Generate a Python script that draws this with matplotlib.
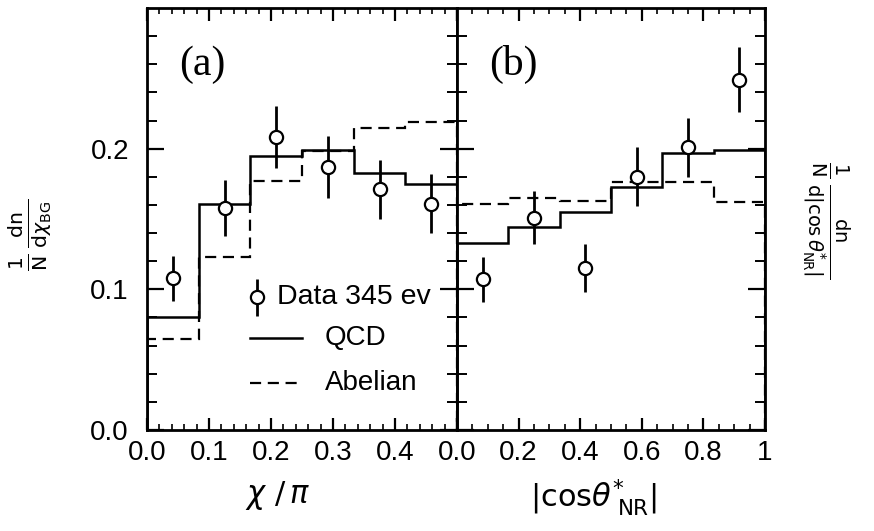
import numpy as np
import matplotlib
matplotlib.use('Agg')
import matplotlib.pyplot as plt

# dados lidos da figura
# painel (a): chi/pi, 6 bins de largura 1/12
chi_bordas = [0.0, 1/12, 2/12, 3/12, 4/12, 5/12, 0.5]
chi_qcd = [0.080, 0.161, 0.195, 0.199, 0.183, 0.175]
chi_abeliano = [0.065, 0.123, 0.177, 0.198, 0.215, 0.219]
chi_dados = [0.108, 0.158, 0.208, 0.187, 0.171, 0.161]
chi_erros = [0.016, 0.020, 0.022, 0.022, 0.021, 0.021]

# painel (b): |cos theta*_NR|, 6 bins de largura 1/6
cos_bordas = [0.0, 1/6, 2/6, 3/6, 4/6, 5/6, 1.0]
cos_qcd = [0.133, 0.144, 0.155, 0.173, 0.197, 0.199]
cos_abeliano = [0.161, 0.165, 0.163, 0.176, 0.176, 0.162]
cos_dados = [0.107, 0.151, 0.115, 0.180, 0.201, 0.249]
cos_erros = [0.016, 0.019, 0.017, 0.021, 0.021, 0.023]

rotulos_chi = ['0.0', '0.1', '0.2', '0.3', '0.4', '']
rotulos_cos = ['0.0', '0.2', '0.4', '0.6', '0.8', '1']

plt.rcParams['font.family'] = ['Liberation Sans', 'DejaVu Sans']
plt.rcParams['mathtext.fontset'] = 'dejavusans'

fig = plt.figure(figsize=(8.74, 5.31), dpi=100)
ax_a = fig.add_axes([147/874, 101/531, 310/874, 422/531])
ax_b = fig.add_axes([457/874, 101/531, 308/874, 422/531])

tracejado = (0, (5, 3))


def desenhar(ax, bordas, qcd, abeliano, dados, erros):
    bordas = np.array(bordas)
    centros = (bordas[:-1] + bordas[1:]) / 2
    ax.stairs(qcd, bordas, color='black', linewidth=1.8)
    ax.stairs(abeliano, bordas, color='black', linewidth=1.6, linestyle=tracejado)
    ax.errorbar(centros, dados, yerr=erros, fmt='o', color='black',
                markerfacecolor='white', markeredgecolor='black',
                markersize=9.5, markeredgewidth=1.6, elinewidth=2.0,
                capsize=0, zorder=5)
    ax.set_ylim(0, 0.3)
    for lado in ax.spines.values():
        lado.set_linewidth(2.0)
    ax.tick_params(which='both', direction='in', top=True, right=True,
                   labelsize=20)
    ax.tick_params(axis='x', which='both', pad=7)
    ax.tick_params(axis='y', which='both', pad=13)
    ax.tick_params(axis='y', which='major', length=12, width=1.6)
    ax.tick_params(axis='y', which='minor', length=7, width=1.4)
    ax.tick_params(axis='x', which='major', length=9, width=1.6)
    ax.tick_params(axis='x', which='minor', length=4.5, width=1.2)
    ax.set_yticks([0.0, 0.1, 0.2])
    ax.set_yticks(np.arange(0, 0.3, 0.02), minor=True)


# --- painel (a)
desenhar(ax_a, chi_bordas, chi_qcd, chi_abeliano, chi_dados, chi_erros)
ax_a.set_xlim(0, 0.5)
ax_a.set_xticks([0.0, 0.1, 0.2, 0.3, 0.4, 0.5])
ax_a.set_xticklabels(rotulos_chi)
ax_a.set_xticks(np.arange(0, 0.5, 0.02), minor=True)
ax_a.set_yticklabels(['0.0', '0.1', '0.2'])
ax_a.text(0.105, 0.865, '(a)', transform=ax_a.transAxes, fontsize=30,
          family='Liberation Serif', ha='left', va='center')

# legenda desenhada à mão
ax_a.errorbar([0.355], [0.315], yerr=[0.044], fmt='o', color='black',
              markerfacecolor='white', markeredgecolor='black',
              markersize=9.5, markeredgewidth=1.6, elinewidth=2.0,
              capsize=0, transform=ax_a.transAxes, clip_on=False)
ax_a.text(0.42, 0.315, 'Data 345 ev', transform=ax_a.transAxes,
          fontsize=20.5, va='center', ha='left')
ax_a.plot([0.332, 0.50], [0.218, 0.218], color='black', linewidth=1.8,
          transform=ax_a.transAxes)
ax_a.text(0.574, 0.218, 'QCD', transform=ax_a.transAxes,
          fontsize=20, va='center', ha='left')
ax_a.plot([0.332, 0.50], [0.111, 0.111], color='black', linewidth=1.6,
          linestyle=tracejado, transform=ax_a.transAxes)
ax_a.text(0.574, 0.111, 'Abelian', transform=ax_a.transAxes,
          fontsize=20, va='center', ha='left')

# --- painel (b)
desenhar(ax_b, cos_bordas, cos_qcd, cos_abeliano, cos_dados, cos_erros)
ax_b.set_xlim(0, 1)
ax_b.set_xticks([0.0, 0.2, 0.4, 0.6, 0.8, 1.0])
ax_b.set_xticklabels(rotulos_cos)
ax_b.set_xticks(np.arange(0, 1.0, 0.05), minor=True)
ax_b.set_yticklabels([])
ax_b.text(0.105, 0.865, '(b)', transform=ax_b.transAxes, fontsize=30,
          family='Liberation Serif', ha='left', va='center')

# títulos dos eixos x (posição como no original)
fig.text(278/874, 1 - 495/531, r'$\chi\ /\,\pi$', fontsize=22,
         ha='center', va='center')
fig.text(593/874, 1 - 497/531, r'$|\mathrm{cos}\theta^{*}_{\ \mathrm{NR}}|$',
         fontsize=22, ha='center', va='center')

# rótulos do eixo y
fig.text(0.035, 0.557,
         r'$\frac{1}{\mathrm{N}}\,\frac{\mathrm{dn}}{\mathrm{d}\chi_{\mathrm{BG}}}$',
         rotation=90, fontsize=21, ha='center', va='center')
fig.text(0.945, 0.586,
         r'$\frac{1}{\mathrm{N}}\,\frac{\mathrm{dn}}{\mathrm{d|cos}\,\theta^{*}_{\mathrm{NR}}|}$',
         rotation=-90, fontsize=20, ha='center', va='center')

plt.savefig('out.png', dpi=100)
